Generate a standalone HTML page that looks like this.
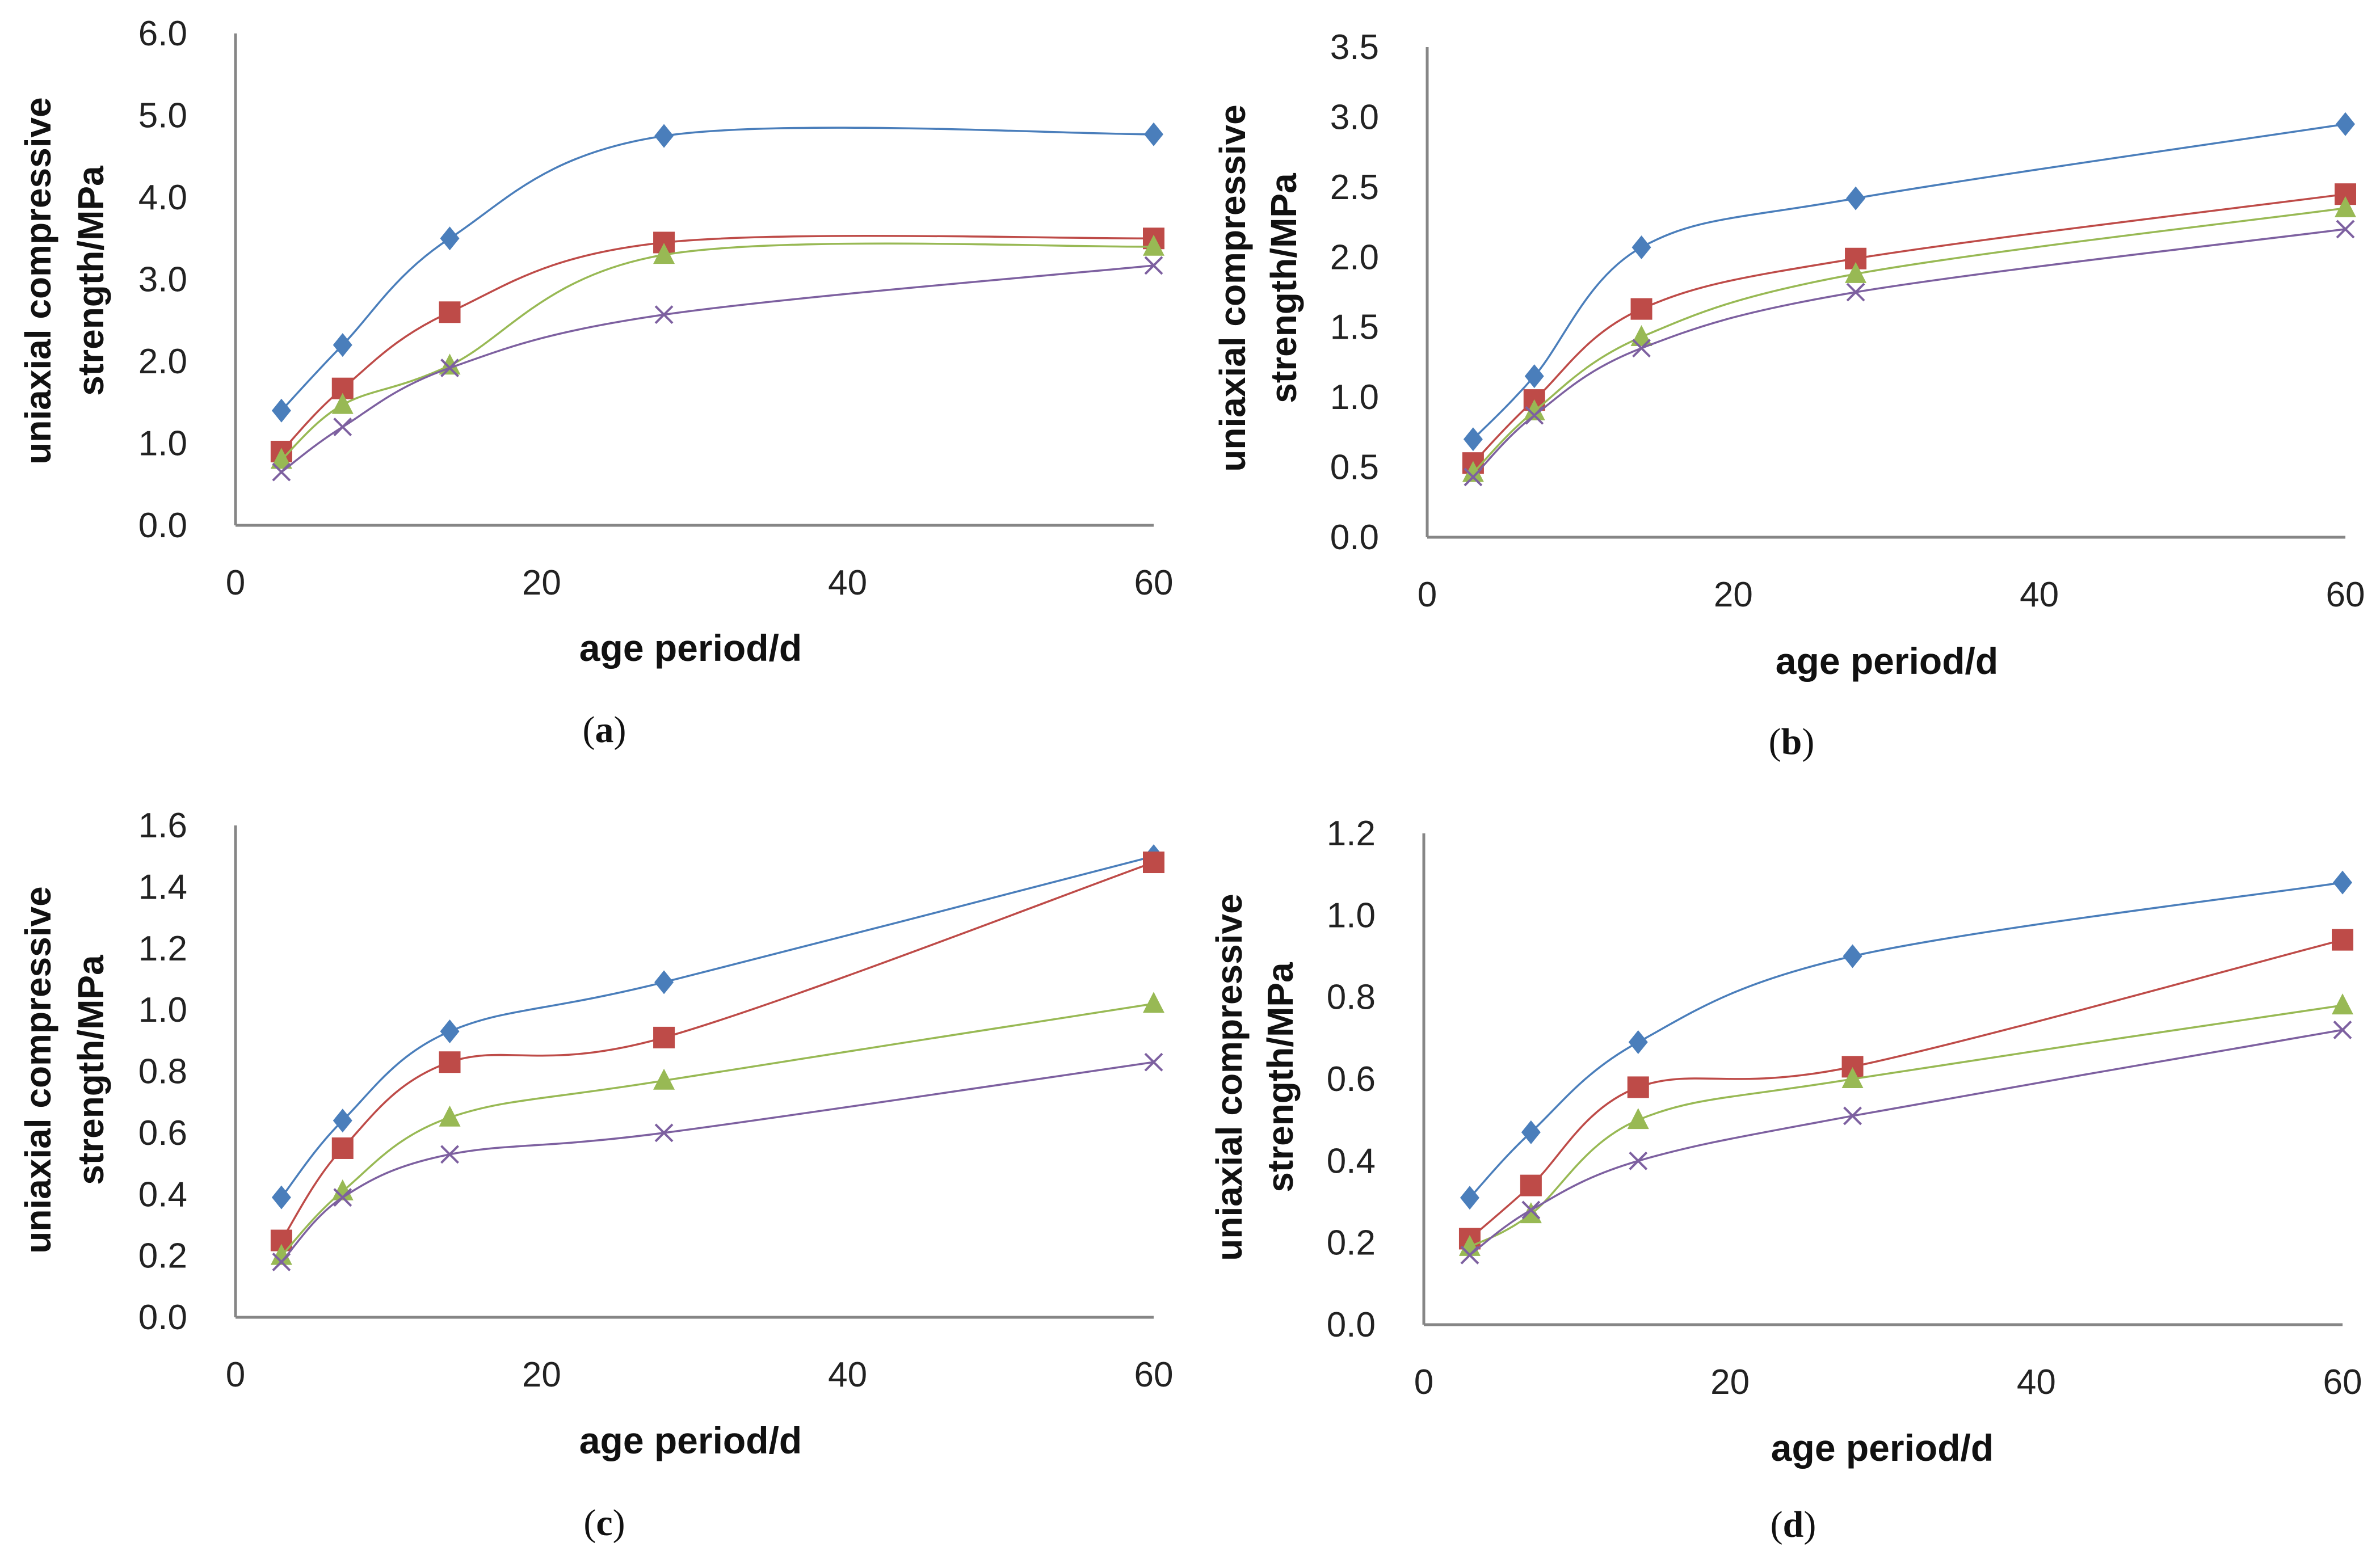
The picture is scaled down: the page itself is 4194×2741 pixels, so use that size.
<!DOCTYPE html>
<html><head><meta charset="utf-8"><style>
html,body{margin:0;padding:0;background:#fff;}
svg{display:block;}
.tk{font-family:"Liberation Sans Narrow","Liberation Sans",sans-serif;font-size:62px;fill:#222;}
.yt{font-family:"Liberation Sans",sans-serif;font-weight:bold;font-size:64px;fill:#111;}
.xt{font-family:"Liberation Sans Narrow","Liberation Sans",sans-serif;font-weight:bold;font-size:66px;fill:#111;}
.cap{font-family:"Liberation Serif",serif;font-size:66px;fill:#111;}
</style></head><body>
<svg id="fig" width="4194" height="2741" viewBox="0 0 4194 2741" xmlns="http://www.w3.org/2000/svg"></svg>
<script>
const ages = [3, 7, 14, 28, 60];
const xTicks = [0, 20, 40, 60];
const seriesNames = ["series-1", "series-2", "series-3", "series-4"];
const aBlue = [1.4, 2.2, 3.5, 4.75, 4.77];
const aRed = [0.9, 1.67, 2.6, 3.45, 3.5];
const aGreen = [0.8, 1.47, 1.95, 3.3, 3.4];
const aPurple = [0.65, 1.2, 1.92, 2.57, 3.17];
const bBlue = [0.7, 1.15, 2.07, 2.42, 2.95];
const bRed = [0.53, 0.98, 1.63, 1.99, 2.45];
const bGreen = [0.46, 0.9, 1.43, 1.88, 2.35];
const bPurple = [0.43, 0.87, 1.35, 1.75, 2.2];
const cBlue = [0.39, 0.64, 0.93, 1.09, 1.5];
const cRed = [0.25, 0.55, 0.83, 0.91, 1.48];
const cGreen = [0.2, 0.41, 0.65, 0.77, 1.02];
const cPurple = [0.18, 0.39, 0.53, 0.6, 0.83];
const dBlue = [0.31, 0.47, 0.69, 0.9, 1.08];
const dRed = [0.21, 0.34, 0.58, 0.63, 0.94];
const dGreen = [0.19, 0.27, 0.5, 0.6, 0.78];
const dPurple = [0.17, 0.28, 0.4, 0.51, 0.72];
const aTicks = ["0.0","1.0","2.0","3.0","4.0","5.0","6.0"];
const bTicks = ["0.0","0.5","1.0","1.5","2.0","2.5","3.0","3.5"];
const cTicks = ["0.0","0.2","0.4","0.6","0.8","1.0","1.2","1.4","1.6"];
const dTicks = ["0.0","0.2","0.4","0.6","0.8","1.0","1.2"];

const panels = [
 {id:"a", x0:415, x1:2033, y0:926, y1:59, ticks:aTicks, data:[aBlue,aRed,aGreen,aPurple], ytx:[67,160], yty:495, xtx:1217, xty:1165, capx:1065, capy:1308},
 {id:"b", x0:2515, x1:4133, y0:947, y1:83, ticks:bTicks, data:[bBlue,bRed,bGreen,bPurple], ytx:[2172,2262], yty:508, xtx:3325, xty:1188, capx:3157, capy:1329},
 {id:"c", x0:415, x1:2033, y0:2322, y1:1455, ticks:cTicks, data:[cBlue,cRed,cGreen,cPurple], ytx:[67,160], yty:1886, xtx:1217, xty:2562, capx:1065, capy:2706},
 {id:"d", x0:2509, x1:4128, y0:2335, y1:1469, ticks:dTicks, data:[dBlue,dRed,dGreen,dPurple], ytx:[2166,2256], yty:1899, xtx:3317, xty:2575, capx:3160, capy:2709}
];
const colors = ["#4a7ebb","#be4b48","#98b954","#7d60a0"];
const NS = "http://www.w3.org/2000/svg";
const svg = document.getElementById("fig");
function mk(tag, attrs, parent){
  const e = document.createElementNS(NS, tag);
  for (const k in attrs) e.setAttribute(k, attrs[k]);
  parent.appendChild(e); return e;
}
function smoothPath(pts){
  let d = "M" + pts[0][0] + "," + pts[0][1];
  const t = 0.17;
  for (let i = 0; i < pts.length - 1; i++){
    const p0 = pts[Math.max(i-1,0)], p1 = pts[i], p2 = pts[i+1], p3 = pts[Math.min(i+2,pts.length-1)];
    const c1 = [p1[0] + (p2[0]-p0[0])*t, p1[1] + (p2[1]-p0[1])*t];
    const c2 = [p2[0] - (p3[0]-p1[0])*t, p2[1] - (p3[1]-p1[1])*t];
    d += " C" + c1 + " " + c2 + " " + p2;
  }
  return d;
}
panels.forEach(p => {
  const g = mk("g", {}, svg);
  
  
  const ymax = parseFloat(p.ticks[p.ticks.length-1]);
  const sx = v => p.x0 + (v/60)*(p.x1-p.x0);
  const sy = v => p.y0 - (v/ymax)*(p.y0-p.y1);
  const ya = mk("line", {x1:p.x0, y1:p.y1, x2:p.x0, y2:p.y0, stroke:"#868686", "stroke-width":5}, g);
  
  
  const xa = mk("line", {x1:p.x0, y1:p.y0, x2:p.x1, y2:p.y0, stroke:"#868686", "stroke-width":5}, g);
  
  
  p.ticks.forEach(t => {
    const e = mk("text", {x:p.x0-85, y:sy(parseFloat(t))+21, "text-anchor":"end", class:"tk"}, g);
    e.textContent = t;
    
    
  });
  xTicks.forEach(t => {
    const e = mk("text", {x:sx(t), y:p.y0+122, "text-anchor":"middle", class:"tk"}, g);
    e.textContent = t;
    
    
  });
  ["uniaxial compressive","strength/MPa"].forEach((s,i) => {
    const e = mk("text", {x:p.ytx[i]+22, y:p.yty, "text-anchor":"middle", class:"yt", transform:"rotate(-90 "+(p.ytx[i]+22)+" "+p.yty+")"}, g);
    e.textContent = s;
    
    
  });
  const xt = mk("text", {x:p.xtx, y:p.xty, "text-anchor":"middle", class:"xt"}, g);
  xt.textContent = "age period/d";
  
  
  const cap = mk("text", {x:p.capx, y:p.capy, "text-anchor":"middle", class:"cap"}, g);
  
  
  cap.appendChild(document.createTextNode("("));
  const b = mk("tspan", {"font-weight":"bold"}, cap);
  b.textContent = p.id;
  cap.appendChild(document.createTextNode(")"));
  p.data.forEach((vals, si) => {
    const c = colors[si];
    const pts = vals.map((v,i) => [sx(ages[i]), sy(v)]);
    const ln = mk("path", {d:smoothPath(pts), fill:"none", stroke:c, "stroke-width":3.5}, g);
    
    
    pts.forEach(pt => {
      const [x,y] = pt; let m;
      if (si === 0) m = mk("polygon", {points:`${x},${y-21} ${x+17},${y} ${x},${y+21} ${x-17},${y}`, fill:c}, g);
      else if (si === 1) m = mk("rect", {x:x-19, y:y-19, width:38, height:38, fill:c}, g);
      else if (si === 2) m = mk("polygon", {points:`${x},${y-21} ${x+19},${y+16} ${x-19},${y+16}`, fill:c}, g);
      else m = mk("path", {d:`M${x-15},${y-15}L${x+15},${y+15}M${x+15},${y-15}L${x-15},${y+15}`, stroke:c, "stroke-width":4}, g);
      
      
    });
  });
});
</script>
</body></html>
